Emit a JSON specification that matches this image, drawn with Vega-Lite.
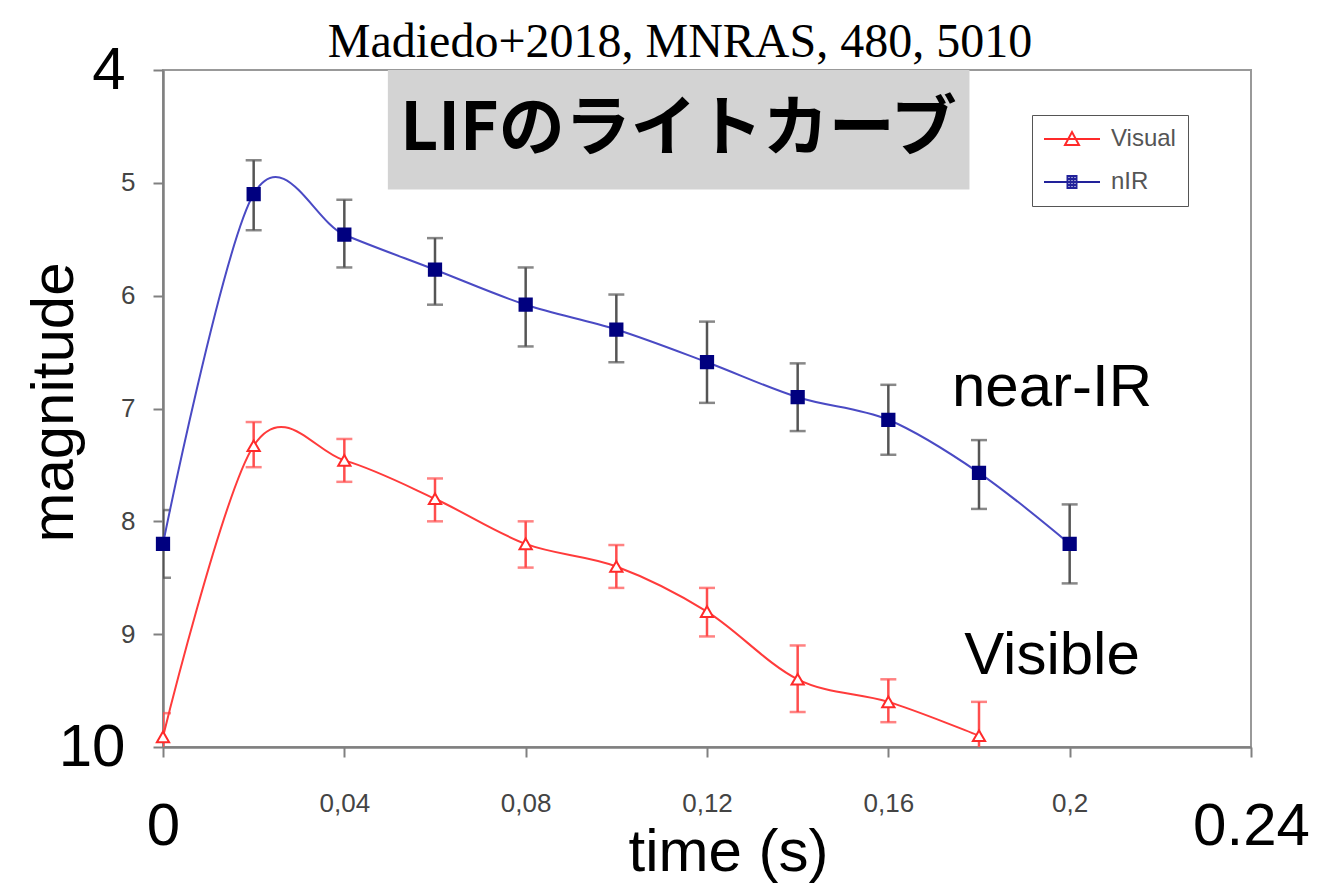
{
  "$schema": "https://vega.github.io/schema/vega-lite/v6.json",
  "width": 1088,
  "height": 677,
  "autosize": {"type": "none"},
  "padding": {"left": 163, "top": 70, "right": 80, "bottom": 143},
  "background": "white",
  "config": {
    "font": "Liberation Sans",
    "view": {"stroke": "#999999", "strokeWidth": 2}
  },
  "title": {
    "text": "Madiedo+2018, MNRAS, 480, 5010",
    "font": "Liberation Serif",
    "fontSize": 48,
    "fontWeight": "normal",
    "color": "black",
    "anchor": "middle",
    "baseline": "alphabetic",
    "dx": -27,
    "dy": 75,
    "offset": 10
  },
  "datasets": {
    "lc": [
      {"t": 0.00, "series": "nIR", "mag": 8.2, "lo": 7.9, "hi": 8.5},
      {"t": 0.02, "series": "nIR", "mag": 5.1, "lo": 4.8, "hi": 5.42},
      {"t": 0.04, "series": "nIR", "mag": 5.46, "lo": 5.15, "hi": 5.75},
      {"t": 0.06, "series": "nIR", "mag": 5.77, "lo": 5.49, "hi": 6.08},
      {"t": 0.08, "series": "nIR", "mag": 6.08, "lo": 5.75, "hi": 6.45},
      {"t": 0.10, "series": "nIR", "mag": 6.3, "lo": 5.99, "hi": 6.59},
      {"t": 0.12, "series": "nIR", "mag": 6.59, "lo": 6.23, "hi": 6.95},
      {"t": 0.14, "series": "nIR", "mag": 6.9, "lo": 6.6, "hi": 7.2},
      {"t": 0.16, "series": "nIR", "mag": 7.1, "lo": 6.79, "hi": 7.41},
      {"t": 0.18, "series": "nIR", "mag": 7.57, "lo": 7.28, "hi": 7.89},
      {"t": 0.20, "series": "nIR", "mag": 8.2, "lo": 7.85, "hi": 8.55},
      {"t": 0.00, "series": "Visual", "mag": 9.91, "lo": 9.7, "hi": 10.1},
      {"t": 0.02, "series": "Visual", "mag": 7.33, "lo": 7.12, "hi": 7.52},
      {"t": 0.04, "series": "Visual", "mag": 7.46, "lo": 7.27, "hi": 7.65},
      {"t": 0.06, "series": "Visual", "mag": 7.8, "lo": 7.62, "hi": 8.0},
      {"t": 0.08, "series": "Visual", "mag": 8.2, "lo": 8.0, "hi": 8.41},
      {"t": 0.10, "series": "Visual", "mag": 8.4, "lo": 8.21, "hi": 8.59},
      {"t": 0.12, "series": "Visual", "mag": 8.8, "lo": 8.59, "hi": 9.02},
      {"t": 0.14, "series": "Visual", "mag": 9.4, "lo": 9.1, "hi": 9.69},
      {"t": 0.16, "series": "Visual", "mag": 9.6, "lo": 9.4, "hi": 9.78},
      {"t": 0.18, "series": "Visual", "mag": 9.9, "lo": 9.6, "hi": 10.2}
    ],
    "box": [
      {"t1": 0.0496, "t2": 0.1779, "m1": 4.0, "m2": 5.06, "tc": 0.1137, "mc": 4.53, "label": "LIFのライトカーブ"}
    ],
    "notes": [
      {"t": 0.1961, "mag": 6.82, "label": "near-IR"},
      {"t": 0.1961, "mag": 9.19, "label": "Visible"}
    ]
  },
  "encoding": {
    "x": {
      "field": "t",
      "type": "quantitative",
      "scale": {"domain": [0, 0.24], "nice": false, "zero": false},
      "axis": {
        "title": "time (s)",
        "titleFontSize": 60,
        "titleFontWeight": "normal",
        "titleColor": "black",
        "titleFont": "Liberation Sans",
        "titleX": 565,
        "titleY": 123,
        "titleAlign": "center",
        "titleBaseline": "alphabetic",
        "values": [0, 0.04, 0.08, 0.12, 0.16, 0.2, 0.24],
        "labelExpr": "datum.value == 0 ? '0' : (datum.value > 0.23 ? '0.24' : replace(format(datum.value, '.2~f'), '.', ','))",
        "labelFontSize": {"condition": {"test": "datum.value == 0 || datum.value > 0.23", "value": 60}, "value": 26},
        "labelColor": {"condition": {"test": "datum.value == 0 || datum.value > 0.23", "value": "black"}, "value": "#444444"},
        "labelPadding": {"condition": {"test": "datum.value == 0 || datum.value > 0.23", "value": 40}, "value": 33},
        "labelFlush": false,
        "labelOverlap": false,
        "grid": false,
        "domainColor": "#808080",
        "domainWidth": 2.5,
        "tickColor": "#808080",
        "tickWidth": 2,
        "tickSize": 10
      }
    },
    "y": {
      "field": "mag",
      "type": "quantitative",
      "scale": {"domain": [4, 10], "reverse": true, "nice": false, "zero": false},
      "axis": {
        "title": "magnitude",
        "titleFontSize": 60,
        "titleFontWeight": "normal",
        "titleColor": "black",
        "titleFont": "Liberation Sans",
        "titleX": -91,
        "titleY": 332,
        "titleAngle": 270,
        "titleAlign": "center",
        "titleBaseline": "alphabetic",
        "values": [4, 5, 6, 7, 8, 9, 10],
        "labelFontSize": {"condition": {"test": "datum.value == 4 || datum.value == 10", "value": 60}, "value": 26},
        "labelColor": {"condition": {"test": "datum.value == 4 || datum.value == 10", "value": "black"}, "value": "#444444"},
        "labelPadding": {"condition": {"test": "datum.value == 4 || datum.value == 10", "value": 28}, "value": 18},
        "labelFlush": false,
        "labelOverlap": false,
        "grid": false,
        "domainColor": "#808080",
        "domainWidth": 2.5,
        "tickColor": "#808080",
        "tickWidth": 2,
        "tickSize": 10
      }
    }
  },
  "layer": [
    {
      "data": {"name": "box"},
      "mark": {"type": "rect", "color": "#d3d3d3"},
      "encoding": {
        "x": {"field": "t1", "type": "quantitative"},
        "x2": {"field": "t2"},
        "y": {"field": "m1", "type": "quantitative"},
        "y2": {"field": "m2"}
      }
    },
    {
      "data": {"name": "box"},
      "mark": {"type": "text", "font": "Noto Sans CJK JP", "fontWeight": "bold", "fontSize": 66, "color": "black", "align": "center", "baseline": "middle"},
      "encoding": {
        "x": {"field": "tc", "type": "quantitative"},
        "y": {"field": "mc", "type": "quantitative"},
        "text": {"field": "label"}
      }
    },
    {
      "data": {"name": "lc"},
      "mark": {"type": "rule", "strokeWidth": 2.5, "clip": true},
      "encoding": {
        "y": {"field": "lo", "type": "quantitative"},
        "y2": {"field": "hi"},
        "color": {"condition": {"test": "datum.series === 'nIR'", "value": "#555555"}, "value": "#ff4d4d"}
      }
    },
    {
      "data": {"name": "lc"},
      "mark": {"type": "tick", "orient": "horizontal", "size": 16, "thickness": 2.5, "clip": true},
      "encoding": {
        "y": {"field": "lo", "type": "quantitative"},
        "color": {"condition": {"test": "datum.series === 'nIR'", "value": "#555555"}, "value": "#ff4d4d"}
      }
    },
    {
      "data": {"name": "lc"},
      "mark": {"type": "tick", "orient": "horizontal", "size": 16, "thickness": 2.5, "clip": true},
      "encoding": {
        "y": {"field": "hi", "type": "quantitative"},
        "color": {"condition": {"test": "datum.series === 'nIR'", "value": "#555555"}, "value": "#ff4d4d"}
      }
    },
    {
      "data": {"name": "lc"},
      "mark": {"type": "line", "interpolate": "cardinal", "tension": 0, "strokeWidth": 2},
      "encoding": {
        "detail": {"field": "series"},
        "order": {"field": "t"},
        "color": {"condition": {"test": "datum.series === 'nIR'", "value": "#4a4ac4"}, "value": "#ff3b3b"}
      }
    },
    {
      "data": {"name": "lc"},
      "mark": {"type": "point", "filled": false, "size": 150, "strokeWidth": 2, "opacity": 1},
      "encoding": {
        "stroke": {"condition": {"test": "datum.series === 'nIR'", "value": "#00007f"}, "value": "#ff2a2a"},
        "fill": {"condition": {"test": "datum.series === 'nIR'", "value": "#00007f"}, "value": "white"},
        "shape": {"condition": {"test": "datum.series === 'nIR'", "value": "square"}, "value": "triangle-up"}
      }
    },
    {
      "data": {"name": "lc"},
      "mark": {"type": "point", "filled": false, "size": 400, "strokeWidth": 2, "opacity": 0},
      "encoding": {
        "stroke": {
          "field": "series",
          "type": "nominal",
          "scale": {"domain": ["Visual", "nIR"], "range": ["#ff2a2a", "#22229a"]},
          "legend": {
            "title": null,
            "orient": "none",
            "legendX": 869,
            "legendY": 45,
            "strokeColor": "#555555",
            "fillColor": "white",
            "padding": 12,
            "symbolOffset": 16,
            "labelOffset": 27,
            "rowPadding": 19,
            "labelFontSize": 24,
            "labelColor": "#555555",
            "labelFont": "Liberation Sans",
            "symbolSize": 400,
            "symbolStrokeWidth": 2,
            "symbolOpacity": 1,
            "symbolFillColor": "white"
          }
        },
        "shape": {
          "field": "series",
          "type": "nominal",
          "scale": {"domain": ["Visual", "nIR"], "range": ["M-2.8,0H2.8M-0.7,0.6L0,-0.7L0.7,0.6Z", "M-2.8,0H2.8M-0.45,-0.6H0.45V0.6H-0.45ZM-0.45,-0.3H0.45M-0.45,0.3H0.45M-0.15,-0.6V0.6M0.15,-0.6V0.6"]}
        }
      }
    },
    {
      "data": {"name": "notes"},
      "mark": {"type": "text", "fontSize": 60, "font": "Liberation Sans", "color": "black", "align": "center", "baseline": "middle"},
      "encoding": {
        "x": {"field": "t", "type": "quantitative"},
        "y": {"field": "mag", "type": "quantitative"},
        "text": {"field": "label"}
      }
    }
  ]
}
